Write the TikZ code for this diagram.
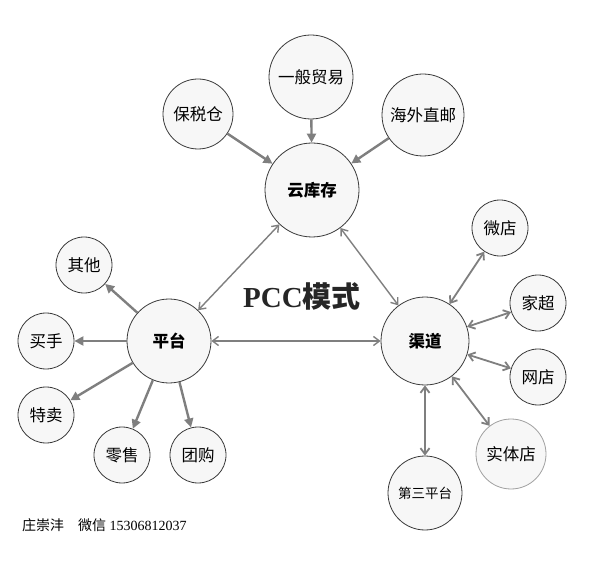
\documentclass[tikz,border=0pt]{standalone}
\usepackage{fontspec}
\setmainfont{Liberation Serif}
\newfontfamily\cjk{Noto Sans CJK SC}
\usetikzlibrary{arrows.meta}
\definecolor{ring}{HTML}{3A3A3A}
\definecolor{ringsoft}{HTML}{A0A0A0}
\definecolor{disc}{HTML}{F7F7F7}
\definecolor{link}{HTML}{7F7F7F}

\begin{document}
\begin{tikzpicture}[
  x=1pt,y=-1pt,
  leaf/.style={circle,draw=ring,line width=0.8pt,fill=disc,inner sep=0pt,
               minimum size=56pt,font=\cjk\fontsize{16.5}{16.5}\selectfont},
  hub/.style={leaf,font=\cjk\bfseries\fontsize{16.5}{16.5}\selectfont},
  feed/.style={-{Triangle[length=9pt,width=9pt]},link,line width=2.4pt},
  duo/.style={{Straight Barb[length=6pt,width=9pt]}-{Straight Barb[length=6pt,width=9pt]},
              link,line width=1.8pt},
  core/.style={{Straight Barb[length=6pt,width=9pt]}-{Straight Barb[length=6pt,width=9pt]},
               link,line width=1.4pt}
]
  \useasboundingbox (0,0) rectangle (595,572);

  % hubs
  \node[hub,minimum size=94pt] (cloud) at (312,190) {云库存};
  \node[hub,minimum size=84pt] (plat) at (169,341) {平台};
  \node[hub,minimum size=88pt] (chan) at (425,341) {渠道};

  % sources of the cloud stock
  \node[leaf,minimum size=84pt] (trade) at (311,77) {一般贸易};
  \node[leaf,minimum size=70pt] (bond) at (198,114) {保税仓};
  \node[leaf,minimum size=82pt] (mail) at (423,115) {海外直邮};

  % platform outlets
  \node[leaf] (other) at (84,265) {其他};
  \node[leaf] (buyer) at (46,341) {买手};
  \node[leaf] (flash) at (46,415) {特卖};
  \node[leaf] (retail) at (122,455) {零售};
  \node[leaf] (group) at (198,455) {团购};

  % channel outlets
  \node[leaf] (wechat) at (500,228) {微店};
  \node[leaf] (super) at (538,303) {家超};
  \node[leaf] (shop) at (538,377) {网店};
  \node[leaf,minimum size=70pt,draw=ringsoft] (store) at (511,454) {实体店};
  \node[leaf,minimum size=74pt,font=\cjk\fontsize{13.5}{13.5}\selectfont] (third) at (425,493) {第三平台};

  \node[font=\bfseries\fontsize{29}{29}\selectfont,text=black!85] (title) at (302,296)
    {PCC{\cjk 模式}};
  \node[anchor=west,inner sep=0pt,font=\fontsize{14}{14}\selectfont] (sign) at (22,525)
    {{\cjk 庄崇沣\quad 微信} 15306812037};

  \draw[feed] (trade) -- (cloud);
  \draw[feed] (bond) -- (cloud);
  \draw[feed] (mail) -- (cloud);

  \draw[core] (plat) -- (cloud);
  \draw[core] (cloud) -- (chan);
  \draw[core] (plat) -- (chan);

  \foreach \t in {other,buyer,flash,retail,group}
    \draw[feed] (plat) -- (\t);
  \foreach \t in {wechat,super,shop,store,third}
    \draw[duo] (chan) -- (\t);
\end{tikzpicture}
\end{document}
